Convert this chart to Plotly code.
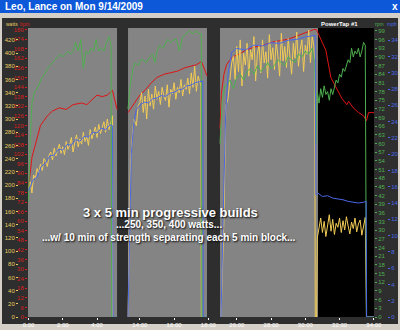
import plotly.graph_objects as go

# ---------------- data (real elapsed minutes) ----------------
seg_offset = [0.0, 7.50, 13.84]          # hidden minutes before each shown block
panel_start = [-0.03, 13.31, 25.02]
panel_end = [5.17, 17.92, 30.74]
view_end = 34.01

tick_minutes = [0, 2, 4, 14, 16, 18, 26, 28, 30, 32, 34]
tick_seg = [0, 0, 0, 1, 1, 1, 2, 2, 2, 2, 2]
tick_labels = ["0:00", "2:00", "4:00", "14:00", "16:00", "18:00",
               "26:00", "28:00", "30:00", "32:00", "34:00"]

# power (watts)
pw1_t = [round(0.1 * i, 2) for i in range(50)] + [4.92, 5.17]
pw1 = [195, 205, 188, 215, 210, 225, 218, 232, 222, 240,
       236, 228, 245, 250, 238, 256, 244, 252, 262, 248,
       258, 246, 266, 254, 260, 272, 250, 264, 276, 258,
       270, 262, 280, 266, 274, 260, 284, 270, 278, 288,
       272, 292, 278, 286, 296, 280, 300, 284, 294, 305, 0, 0]
pw2_t = [13.31, 13.38, 13.45, 13.55, 13.65, 13.8, 13.9] + \
        [round(14.0 + 0.1 * i, 2) for i in range(36)] + [17.57, 17.59, 17.92]
pw2 = [0, 120, 230, 270, 300, 290, 320,
       325, 340, 310, 335, 300, 345, 320, 338, 315, 350,
       330, 342, 322, 348, 335, 328, 352, 318, 345, 338,
       355, 330, 348, 340, 360, 335, 352, 345, 362, 338,
       370, 348, 380, 342, 365, 356,
       350, 0, 0]
pw3_t = [25.02, 25.08, 25.25, 25.36, 25.48, 25.6, 25.7] + \
        [round(25.8 + 0.1 * i, 2) for i in range(48)] + [30.55, 30.58, 30.66, 30.7] + \
        [round(30.8 + 0.1 * i, 2) for i in range(28)] + [33.57, 34.01]
pw3 = [0, 0, 150, 320, 330, 360, 385,
       395, 360, 410, 372, 420, 350, 400, 382, 415, 365,
       405, 390, 425, 358, 398, 412, 370, 420, 385, 402,
       362, 428, 390, 408, 375, 418, 395, 365, 430, 388,
       410, 378, 422, 398, 368, 415, 392, 432, 380, 405,
       420, 372, 412, 398, 435, 385, 425, 410,
       380, 0, 0, 120,
       135, 150, 128, 145, 122, 140, 155, 130, 148, 125,
       142, 136, 150, 128, 146, 132, 152, 138, 126, 144,
       134, 150, 129, 141, 147, 124, 139, 151,
       0, 0]

# heart rate (bpm)
hr1_t = [0.0, 0.1, 0.2, 0.35, 0.5, 0.7, 0.9, 1.1, 1.4, 1.8, 2.2, 2.6, 3.1, 3.4,
         3.7, 4.0, 4.3, 4.6, 4.9, 5.0, 5.17]
hr1 = [81, 90, 100, 106, 112, 120, 123, 126, 129, 131, 130, 133, 134, 133,
       136, 139, 138, 139, 142, 138, 130]
hr2_t = [13.31, 13.6, 14.0, 14.3, 14.7, 15.0, 15.4, 15.8, 16.2, 16.6, 17.0,
         17.3, 17.6, 17.75, 17.92]
hr2 = [128, 133, 139, 142, 147, 150, 152, 153, 154, 156, 157, 158, 160, 156, 151]
hr3_t = [25.02, 25.1, 25.25, 25.4, 25.6, 25.77, 26.2, 26.5, 27.0, 27.5, 28.0,
         28.5, 29.0, 29.5, 30.0, 30.3, 30.5, 30.65, 30.9, 31.2, 31.49, 31.78,
         32.13, 32.42, 32.53, 32.8, 33.11, 33.4, 33.57, 33.69, 34.01]
hr3 = [118, 140, 152, 158, 161, 163, 165, 167, 169, 170, 172, 173, 174, 176,
       178, 179, 180, 180, 174, 167, 150, 144, 137, 133, 135, 131, 128, 126,
       123, 128, 128]

# cadence (rpm)
cad1_t = [0.0, 0.1, 0.2, 0.35, 0.5, 0.65, 0.8, 0.95, 1.1, 1.25, 1.4, 1.55, 1.7,
          1.85, 2.0, 2.15, 2.3, 2.45, 2.6, 2.75, 2.9, 3.05, 3.2, 3.35, 3.5, 3.65,
          3.8, 3.95, 4.1, 4.25, 4.4, 4.55, 4.7, 4.82, 4.86, 5.17]
cad1 = [40, 62, 74, 78, 79, 81, 83, 84, 86, 87, 88, 89, 90, 91, 90, 91, 92, 91,
        92, 95, 92, 96, 86, 92, 91, 93, 92, 96, 92, 93, 92, 95, 97, 94, 0, 0]
cad2_t = [13.31, 13.43, 13.6, 13.72, 13.9, 14.05, 14.18, 14.35, 14.58, 14.75,
          14.87, 15.0, 15.16, 15.35, 15.62, 15.8, 16.0, 16.14, 16.32, 16.49,
          16.7, 16.9, 17.1, 17.3, 17.45, 17.59, 17.62, 17.92]
cad2 = [72, 80, 86, 88, 87, 89, 89, 88, 90, 91, 88, 92, 94, 93, 96, 95, 96, 96,
        92, 97, 98, 99, 98, 99, 98, 98, 0, 0]
cad3_t = [25.02, 25.15, 25.3] + [round(25.4 + 0.2 * i, 2) for i in range(26)] + \
         [30.55, 30.62, 30.66] + [round(30.7 + 0.1 * i, 2) for i in range(29)] + [33.57, 34.01]
cad3 = [60, 75, 80,
        80, 82, 79, 83, 84, 82, 85, 86, 84, 87, 85, 86, 88, 86, 87, 89, 88, 87,
        90, 89, 88, 91, 90, 92, 91, 93,
        88, 60, 78,
        78, 74, 79, 76, 80, 77, 78, 75, 79, 77, 80, 82, 81, 84, 83, 86, 85, 87,
        89, 88, 93, 90, 92, 91, 93, 90, 92, 95, 94,
        0, 0]

# speed (mph)
sp1_t = [round(0.25 * i, 2) for i in range(20)] + [4.9, 4.94, 5.17]
sp1 = [15.5, 16.8, 17.2, 18.5, 18.9, 19.8, 19.9, 20.6, 20.5, 21.2, 21.1, 21.8,
       21.6, 22.2, 22.1, 22.7, 22.6, 23.2, 23.0, 23.6, 23.5, 0, 0]
sp2_t = [13.31, 13.4, 13.5, 13.65, 13.8] + [round(14.0 + 0.25 * i, 2) for i in range(15)] + \
        [17.68, 17.70, 17.92]
sp2 = [0, 10, 20, 24, 25.5, 26.0, 26.4, 26.3, 26.8, 26.9, 27.2, 27.1, 27.5, 27.6,
       27.9, 28.0, 28.4, 28.5, 28.8, 28.9, 29.0, 0, 0]
sp3_t = [25.02, 25.08, 25.2, 25.35, 25.5, 25.7, 26.0, 26.5, 27.0, 27.5, 28.0, 28.5,
         29.0, 29.5, 30.0, 30.4, 30.58, 30.62, 30.75, 31.0, 31.3, 31.6, 31.9, 32.2,
         32.5, 32.8, 33.1, 33.4, 33.55, 33.58, 34.01]
sp3 = [0, 0, 12, 25, 30, 32.5, 33.0, 32.8, 33.4, 33.3, 33.7, 33.6, 34.0, 34.1,
       34.4, 34.6, 34.6, 15.0, 15.2, 14.8, 14.9, 14.6, 14.5, 14.4, 14.2, 14.1,
       14.0, 14.1, 14.2, 0, 0]

# ---------------- helpers ----------------
def disp(t, seg):
    return t - seg_offset[seg]


def join(parts):
    xs, ys = [], []
    for i, (seg, t, v) in enumerate(parts):
        if i:
            xs.append(None)
            ys.append(None)
        xs += [disp(a, seg) for a in t]
        ys += list(v)
    return xs, ys


W, H = 400, 330
def px(x):
    return x / W
def py(y):
    return 1 - y / H

C_PW = "#f2cc55"
C_HR = "#e01414"
C_CAD = "#4fb04f"
C_SP = "#4a68e6"
C_WT = "#e8cc60"
C_BPM = "#d42020"

fig = go.Figure()
series = [
    ("cad", C_CAD, "y3", [(0, cad1_t, cad1), (1, cad2_t, cad2), (2, cad3_t, cad3)]),
    ("spd", C_SP, "y4", [(0, sp1_t, sp1), (1, sp2_t, sp2), (2, sp3_t, sp3)]),
    ("pwr", C_PW, "y2", [(0, pw1_t, pw1), (1, pw2_t, pw2), (2, pw3_t, pw3)]),
    ("hr", C_HR, "y", [(0, hr1_t, hr1), (1, hr2_t, hr2), (2, hr3_t, hr3)]),
]
for name, col, ax, parts in series:
    xs, ys = join(parts)
    fig.add_trace(go.Scatter(x=xs, y=ys, mode="lines", name=name, yaxis=ax,
                             line=dict(color=col, width=1), hoverinfo="skip",
                             showlegend=False, connectgaps=False))

shapes = [
    dict(type="rect", xref="paper", yref="paper", x0=0, x1=1, y0=py(13), y1=1,
         fillcolor="#0c58d8", line=dict(width=0), layer="below"),
    dict(type="rect", xref="paper", yref="paper", x0=px(2), x1=px(398), y0=py(324), y1=py(18),
         fillcolor="#2e2e2e", line=dict(width=0), layer="below"),
]
for i in range(3):
    shapes.append(dict(type="rect", xref="x", yref="y domain",
                       x0=disp(panel_start[i], i), x1=disp(panel_end[i], i), y0=0, y1=1,
                       fillcolor="#848484", line=dict(width=0), layer="below"))
shapes.append(dict(type="rect", xref="x", yref="y domain",
                   x0=disp(panel_end[2], 2), x1=disp(view_end, 2), y0=0, y1=1,
                   fillcolor="#000000", line=dict(width=0), layer="below"))

FONT = "Liberation Sans"
ann = [
    dict(text="<b>Leo, Lance on Mon 9/14/2009</b>", x=px(3), y=py(6.5), xanchor="left",
         yanchor="middle", font=dict(family=FONT, size=10, color="white")),
    dict(text="<b>x</b>", x=px(395), y=py(6), xanchor="center", yanchor="middle",
         font=dict(family=FONT, size=10, color="white")),
    dict(text="watts", x=px(12), y=py(24), font=dict(family=FONT, size=5, color=C_WT)),
    dict(text="bpm", x=px(24.5), y=py(24), font=dict(family=FONT, size=5, color=C_BPM)),
    dict(text="rpm", x=px(379), y=py(24), font=dict(family=FONT, size=5, color=C_CAD)),
    dict(text="mph", x=px(392), y=py(24), font=dict(family=FONT, size=5, color=C_SP)),
    dict(text="<b>PowerTap #1</b>", x=px(319), y=py(24), xanchor="left",
         font=dict(family=FONT, size=6, color="white")),
    dict(text="<b>3 x 5 min progressive builds</b>", x=px(170), y=py(212),
         font=dict(family=FONT, size=13, color="white", shadow="1px 1px 2px #000")),
    dict(text="<b>...250, 350, 400 watts...</b>", x=px(169), y=py(225),
         font=dict(family=FONT, size=10, color="white", shadow="1px 1px 2px #000")),
    dict(text="<b>...w/ 10 min of strength separating each 5 min block...</b>", x=px(169), y=py(237),
         font=dict(family=FONT, size=10, color="white", shadow="1px 1px 2px #000")),
]
for a in ann:
    a.setdefault("xref", "paper")
    a.setdefault("yref", "paper")
    a.setdefault("showarrow", False)
    a.setdefault("xanchor", "center")
    a.setdefault("yanchor", "middle")

tick_font = dict(family=FONT, size=6)
ydom = [py(317), py(28)]
common = dict(showgrid=False, zeroline=False, showline=False, automargin=False,
              ticks="outside", ticklen=2)

fig.update_layout(
    width=W, height=H, margin=dict(l=0, r=0, t=0, b=0, pad=0, autoexpand=False),
    paper_bgcolor="#d4d0c8", plot_bgcolor="#2e2e2e",
    shapes=shapes, annotations=ann, showlegend=False,
    xaxis=dict(domain=[px(28), px(374)], range=[-0.03, disp(view_end, 2)],
               tickvals=[disp(t, s) for t, s in zip(tick_minutes, tick_seg)],
               ticktext=tick_labels, tickfont=dict(tick_font, color="white"),
               tickcolor="white", anchor="y", **common),
    yaxis=dict(domain=ydom, range=[0, 181], tickvals=list(range(0, 181, 6)),
               tickfont=dict(tick_font, color=C_BPM), tickcolor=C_BPM,
               side="left", anchor="x", **common),
    yaxis2=dict(overlaying="y", anchor="free", position=px(18), side="left",
                range=[0, 438], tickvals=list(range(0, 421, 20)),
                tickfont=dict(tick_font, color=C_WT), tickcolor=C_WT, **common),
    yaxis3=dict(overlaying="y", anchor="x", side="right", range=[0, 100],
                tickvals=list(range(0, 100, 3)), tickfont=dict(tick_font, color=C_CAD),
                tickcolor=C_CAD, **common),
    yaxis4=dict(overlaying="y", anchor="free", position=px(387), side="right",
                range=[0, 35.5], tickvals=list(range(0, 35, 2)),
                tickfont=dict(tick_font, color=C_SP), tickcolor=C_SP, **common),
)

fig.write_html("out.html")
